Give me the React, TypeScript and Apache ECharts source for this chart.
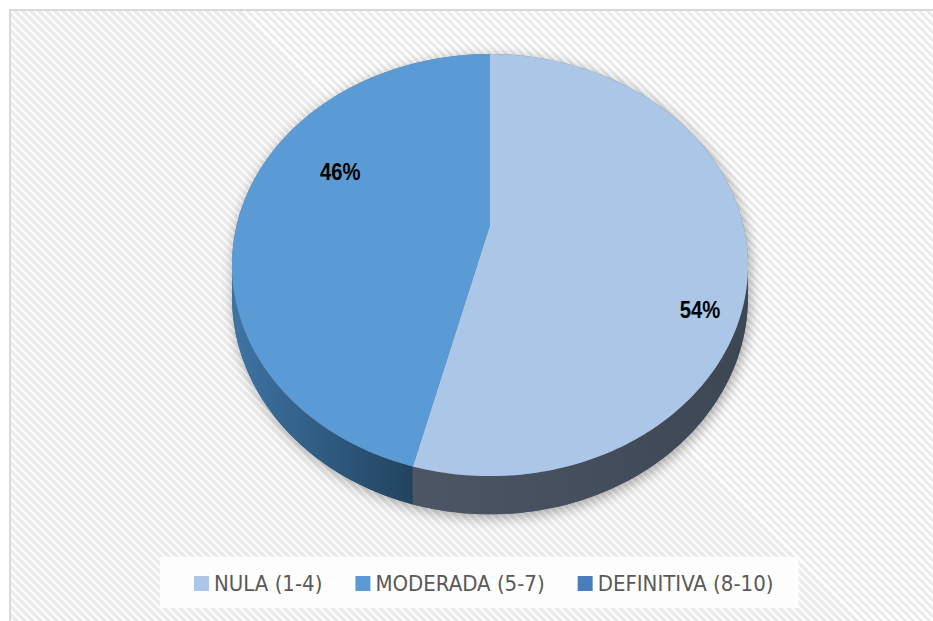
import React, { useEffect, useRef } from "react";
import * as echarts from "echarts";

// ---- data ----
const categories = ["NULA (1-4)", "MODERADA (5-7)", "DEFINITIVA (8-10)"];
const values = [54, 46, 0];

// ---- styles ----
const sliceColors = ["#abc6e6", "#5b9bd5", "#4a7ebb"];
const sideColors = [
  ["#4d5665", "#3d4653"],
  ["#3e74a5", "#22435f"],
  ["#365f8c", "#2a4a6e"],
];
// label placement inside each slice: fraction along the slice's arc, fraction of radius
const labelPlace = [
  { t: 0.6, r: 0.86 },
  { t: 0.6, r: 0.68 },
  { t: 0.5, r: 0.7 },
];
const LEGEND_FONT = "'DejaVu Sans Condensed', 'Liberation Sans', sans-serif";
const LABEL_FONT = "'Liberation Sans', Arial, sans-serif";

// ---- 3D projection (page pixels) ----
const CX = 490; // projected centre x
const CY = 225; // projected centre y
const AX = 253.3; // horizontal scale
const BY = 203.4; // vertical scale
const PERSP = 0.19; // perspective strength
const DEPTH = 31; // extrusion depth (scaled by perspective)

function proj(theta: number, r: number, dy: number): number[] {
  const a = (theta * Math.PI) / 180;
  const u = r * Math.sin(a);
  const v = r * Math.cos(a);
  const w = 1 + PERSP * v;
  return [CX + (AX * u) / w, CY - (BY * v) / w + dy / w];
}

function arc(a0: number, a1: number, dy: number): number[][] {
  const n = Math.max(2, Math.ceil(Math.abs(a1 - a0)));
  const pts: number[][] = [];
  for (let k = 0; k <= n; k++) pts.push(proj(a0 + ((a1 - a0) * k) / n, 1, dy));
  return pts;
}

// silhouette tangent angles (where the rim is widest)
const TAN = (Math.acos(-PERSP) * 180) / Math.PI;
const total = values.reduce((a, b) => a + b, 0);

function makeRender(i: number) {
  return (_params: any, api: any) => {
    const v = api.value(0) as number;
    const start = (values.slice(0, i).reduce((a, b) => a + b, 0) / total) * 360;
    const span = (v / total) * 360;
    const children: any[] = [];
    if (span > 0) {
      const a0 = start;
      const a1 = start + span;
      const s0 = Math.max(a0, TAN);
      const s1 = Math.min(a1, 360 - TAN);
      if (s1 > s0) {
        children.push({
          type: "polygon",
          z2: 1,
          shape: { points: arc(s0, s1, 0).concat(arc(s1, s0, DEPTH)) },
          style: {
            fill: {
              type: "linear",
              x: 0,
              y: 0,
              x2: 1,
              y2: 0,
              colorStops: [
                { offset: 0, color: sideColors[i][0] },
                { offset: 1, color: sideColors[i][1] },
              ],
            },
          },
        });
      }
      children.push({
        type: "polygon",
        z2: 2,
        shape: { points: [proj(0, 0, 0)].concat(arc(a0, a1, 0)) },
        style: { fill: sliceColors[i] },
      });
      const lp = labelPlace[i];
      const p = proj(a0 + lp.t * span, lp.r, 0);
      children.push({
        type: "text",
        z2: 3,
        x: p[0],
        y: p[1],
        scaleX: 0.88,
        style: {
          text: Math.round((v / total) * 100) + "%",
          align: "center",
          verticalAlign: "middle",
          fontFamily: LABEL_FONT,
          fontWeight: "bold",
          fontSize: 23,
          fill: "#000000",
        },
      });
    }
    return { type: "group", children };
  };
}

// outline of the whole 3D pie (for the soft shadow underneath)
const outline = arc(-TAN, TAN, 0).concat(arc(TAN, 360 - TAN, DEPTH));

export default function App() {
  const ref = useRef<HTMLDivElement>(null);
  useEffect(() => {
    if (!ref.current) return;
    const chart = echarts.init(ref.current, null, { renderer: "svg" });
    chart.setOption({
      animation: false,
      legend: {
        data: categories,
        left: 160,
        top: 557,
        orient: "horizontal",
        icon: "rect",
        itemWidth: 15,
        itemHeight: 15,
        itemGap: 33,
        padding: [15, 25, 13, 34],
        backgroundColor: "rgba(255,255,255,0.88)",
        selectedMode: false,
        textStyle: { fontFamily: LEGEND_FONT, fontSize: 22, color: "#595959", lineHeight: 23 },
      },
      graphic: [
        {
          type: "polygon",
          z: 0,
          silent: true,
          shape: { points: outline },
          style: {
            fill: "#6b7380",
            shadowBlur: 14,
            shadowColor: "rgba(0,0,0,0.35)",
            shadowOffsetX: 2,
            shadowOffsetY: 3,
          },
        },
      ],
      series: categories.map((name, i) => ({
        type: "custom",
        name,
        coordinateSystem: "none",
        silent: true,
        clip: false,
        itemStyle: { color: sliceColors[i] },
        data: [[values[i]]],
        renderItem: makeRender(i),
      })),
    });
    return () => chart.dispose();
  }, []);

  return (
    <>
      <div
        style={{
          position: "fixed",
          left: 9,
          top: 9,
          width: 924,
          height: 612,
          boxSizing: "border-box",
          borderLeft: "2px solid #d9d9d9",
          borderTop: "2px solid #d9d9d9",
          background:
            "repeating-linear-gradient(45deg, #ffffff 0px, #ffffff 2.5px, #ebebeb 2.5px, #ebebeb 5.66px)",
        }}
      />
      <div
        ref={ref}
        style={{ position: "fixed", left: 0, top: 0, width: 933, height: 621 }}
      />
    </>
  );
}
